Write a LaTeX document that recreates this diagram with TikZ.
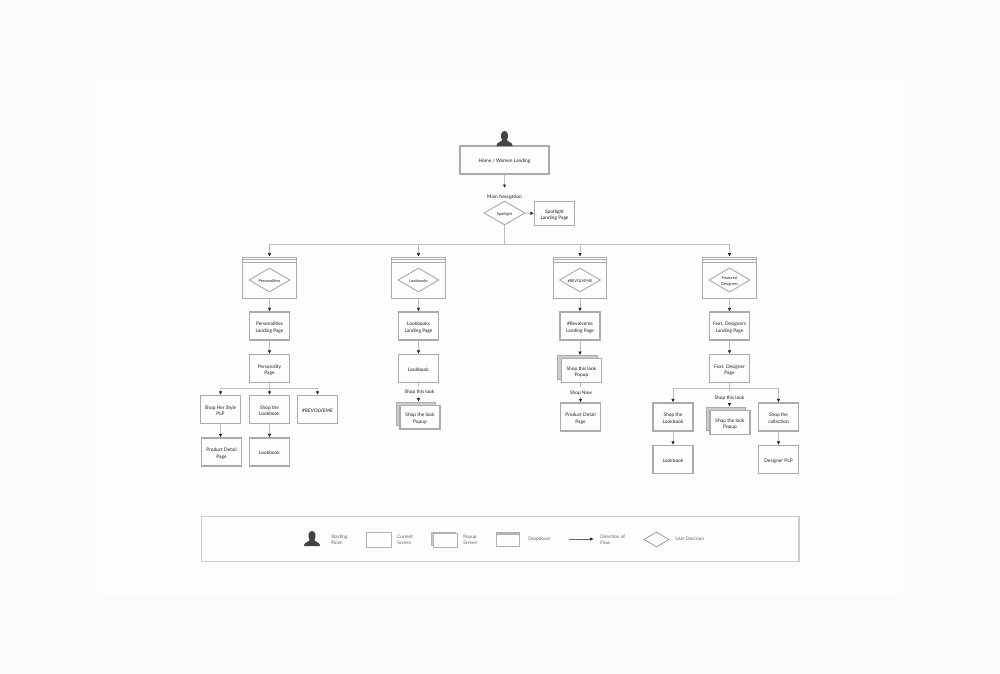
\documentclass[tikz,border=0pt]{standalone}
\usepackage{fontspec}
\setmainfont{Lato}
\usetikzlibrary{arrows.meta,calc,shapes.geometric}
\definecolor{pagebg}{HTML}{FBFBFB}
\definecolor{panelbg}{HTML}{FDFDFD}
\definecolor{boxline}{HTML}{ABABAB}
\definecolor{connline}{HTML}{BEBEBE}
\definecolor{inktext}{HTML}{1C1C1C}
\definecolor{persona}{HTML}{444444}
\newcommand\tl[1]{\vbox{\kern2.4pt\hbox{\begin{tabular}{@{}c@{}}#1\end{tabular}}}}
\tikzset{
  x=0.75pt,y=-0.75pt,
  lbl/.style={font=\fontsize{3.6}{4.9}\selectfont,text=inktext,inner sep=0pt},
  smalllbl/.style={font=\fontsize{2.9}{4.2}\selectfont,text=inktext,inner sep=0pt},
  leglbl/.style={font=\fontsize{3.55}{4.5}\selectfont,text=black!62,align=left,inner sep=0pt,anchor=west},
  screen/.style={draw=boxline,line width=0.95pt,fill=panelbg,minimum width=30pt,minimum height=21pt,inner sep=0pt,lbl},
  popfront/.style={draw=boxline,line width=0.95pt,fill=panelbg,minimum width=30pt,minimum height=17.8pt,inner sep=0pt,lbl},
  popback/.style={draw=boxline,line width=0.8pt,fill=black!20,minimum width=29.6pt,minimum height=17.8pt,inner sep=0pt},
  drop/.style={draw=boxline,line width=0.95pt,fill=panelbg,minimum width=40pt,minimum height=31pt,inner sep=0pt},
  choice/.style={draw=boxline,line width=0.7pt,fill=panelbg,diamond,aspect=1.7,minimum width=30.8pt,minimum height=18pt,inner sep=0pt,smalllbl},
  conn/.style={draw=connline,line width=0.7pt,-{Latex[length=2.6pt,width=2.6pt,black!85]}},
  plain/.style={draw=connline,line width=0.7pt},
  person/.pic={
    \fill[persona] (-8.2,7.5) .. controls (-8,3.5) and (-3,3.5) .. (-2.4,1.5)
      .. controls (-4.2,-1) and (-4.2,-7.5) .. (0,-7.5)
      .. controls (4.2,-7.5) and (4.2,-1) .. (2.4,1.5)
      .. controls (3,3.5) and (8,3.5) .. (8.2,7.5) -- cycle;
  }
}
\begin{document}
\begin{tikzpicture}
\useasboundingbox (0,0) rectangle (1000,674);
\fill[pagebg] (0,0) rectangle (1000,674);
\fill[panelbg] (97,80) rectangle (903,595);
% top
\node[draw=boxline,line width=0.95pt,fill=panelbg,minimum width=66.7pt,minimum height=21pt,inner sep=0pt,lbl] (home) at (504.5,160) {\tl{Home / Women Landing}};
\pic at (504.5,138.5) {person};
\node[lbl] (mainnav) at (504.5,196) {\tl{Main Navigation}};
\node[choice] (spot) at (504.5,213) {\tl{Spotlight}};
\node[screen,minimum height=17.5pt] (spotl) at (554.5,213.5) {\tl{Spotlight\\Landing Page}};
\coordinate (navin) at (504.5,188);
\draw[conn] (home.south) -- (navin);
\draw[conn] (spot.east) -- (spotl.west);
\coordinate (trunk) at (504.5,244);
\draw[plain] (spot.south) -- (trunk);
% dropdowns
\foreach \n/\cx/\t in {d1/269.5/Personalities,d2/418.5/Lookbooks,d3/580/\#REVOLVEME,d4/729.5/Featured\\Designers}{
  \node[drop] (\n) at (\cx,278) {};
  \draw[boxline,line width=0.6pt] ($(\n.north west)+(0,3)$) -- ($(\n.north east)+(0,3)$);
  \draw[boxline,line width=0.6pt] ($(\n.north west)+(0,5.5)$) -- ($(\n.north east)+(0,5.5)$);
  \node[choice] (\n c) at (\cx,280) {\tl{\t}};
}
\draw[plain] (d1.north |- trunk) -- (d4.north |- trunk);
\foreach \n in {d1,d2,d3,d4} \draw[conn] (\n.north |- trunk) -- (\n.north);
% column 1
\node[screen] (a1) at (269.5,326) {\tl{Personalities\\Landing Page}};
\node[screen] (a2) at (269.5,368.5) {\tl{Personality\\Page}};
\node[screen] (a3) at (220.5,409.5) {\tl{Shop Her Style\\PLP}};
\node[screen] (a4) at (269.5,409.5) {\tl{Shop the\\Lookbook}};
\node[screen] (a5) at (317.5,409.5) {\tl{\#REVOLVEME}};
\node[screen] (a6) at (221.5,452) {\tl{Product Detail\\Page}};
\node[screen] (a7) at (269.5,452) {\tl{Lookbook}};
\coordinate (abr) at (269.5,388);
\draw[conn] (d1) -- (a1);
\draw[conn] (a1) -- (a2);
\draw[plain] (a3.north |- abr) -- (a5.north |- abr);
\draw[plain] (a2.south) -- (abr);
\draw[conn] (a3.north |- abr) -- (a3.north);
\draw[conn] (abr) -- (a4.north);
\draw[conn] (a5.north |- abr) -- (a5.north);
\draw[conn] (a3.south) -- (a3.south |- a6.north);
\draw[conn] (a4) -- (a7);
% column 2
\node[screen] (b1) at (418.5,326) {\tl{Lookbooks\\Landing Page}};
\node[screen] (b2) at (418.5,368.5) {\tl{Lookbook}};
\node[popback] (b3b) at (416,414) {};
\node[popfront] (b3) at (420,417) {\tl{Shop the look\\Popup}};
\node[lbl] (b2l) at (419.5,391) {\tl{Shop this look}};
\draw[conn] (d2) -- (b1);
\draw[conn] (b1) -- (b2);
\draw[plain] (b2.south) -- (b2l.north -| b2.south);
\draw[conn] (b2l.south -| b2.south) -- (b3b.north -| b2.south);
% column 3
\node[screen] (c1) at (580,326) {\tl{\#Revolveme\\Landing Page}};
\node[popback] (c2b) at (577.5,367.5) {};
\node[popfront] (c2) at (581.5,370.5) {\tl{Shop this look\\Popup}};
\node[lbl] (c2l) at (581,392) {\tl{Shop Now}};
\node[screen] (c3) at (580.5,417) {\tl{Product Detail\\Page}};
\draw[conn] (d3) -- (c1);
\draw[conn] (c1) -- (c2b.north -| c1.south);
\draw[plain] (c2.south -| c3.north) -- (c2l.north -| c3.north);
\draw[conn] (c2l.south -| c3.north) -- (c3.north);
% column 4
\node[screen] (e1) at (729.5,326) {\tl{Feat. Designers\\Landing Page}};
\node[screen] (e2) at (729.5,368.5) {\tl{Feat. Designer\\Page}};
\node[screen] (e3) at (673,417) {\tl{Shop the\\Lookbook}};
\node[popback] (e4b) at (726,419) {};
\node[popfront] (e4) at (730,422.5) {\tl{Shop the look\\Popup}};
\node[screen] (e5) at (778.5,417) {\tl{Shop the\\collection}};
\node[screen] (e6) at (673,459.5) {\tl{Lookbook}};
\node[screen] (e7) at (778.5,459.5) {\tl{Designer PLP}};
\node[lbl] (e2l) at (729.5,396.5) {\tl{Shop this look}};
\coordinate (ebr) at (729.5,388);
\draw[conn] (d4) -- (e1);
\draw[conn] (e1) -- (e2);
\draw[plain] (e3.north |- ebr) -- (e5.north |- ebr);
\draw[plain] (e2.south) -- (e2l.north -| e2.south);
\draw[conn] (e3.north |- ebr) -- (e3.north);
\draw[conn] (e5.north |- ebr) -- (e5.north);
\draw[conn] (e2l.south -| e2.south) -- (e4b.north -| e2.south);
\draw[conn] (e3) -- (e6);
\draw[conn] (e5) -- (e7);
% legend
\node[draw=black!20,line width=0.9pt,fill=panelbg,minimum width=448pt,minimum height=33.4pt,inner sep=0pt] (legend) at (500.25,539) {};
\pic at (312,538.5) {person};
\node[leglbl] (l1) at (331,539.7) {Starting\\Point};
\node[draw=black!30,line width=0.7pt,fill=panelbg,minimum width=19pt,minimum height=11.2pt,inner sep=0pt] (l2) at (378.7,539.5) {};
\node[leglbl] (l2t) at (397,539.7) {Current\\Screen};
\node[draw=black!30,line width=0.5pt,fill=black!20,minimum width=18pt,minimum height=10pt,inner sep=0pt] (l3b) at (443.5,538.5) {};
\node[draw=black!30,line width=0.7pt,fill=panelbg,minimum width=18pt,minimum height=10pt,inner sep=0pt] (l3) at (445.5,540.5) {};
\node[leglbl] (l3t) at (463,539.7) {Popup\\Screen};
\node[draw=black!30,line width=0.7pt,fill=panelbg,minimum width=17.5pt,minimum height=11pt,inner sep=0pt] (l4) at (508,539.5) {};
\fill[black!30] ($(l4.north west)+(0,1)$) rectangle ($(l4.north east)+(0,3.5)$);
\node[leglbl] (l4t) at (528,539.5) {Dropdown};
\coordinate (l5a) at (569,539);
\coordinate (l5b) at (594,539);
\draw[black!60,line width=0.6pt,-{Latex[length=3pt,width=2.6pt,black!85]}] (l5a) -- (l5b);
\node[leglbl] (l5t) at (600,539.7) {Direction of\\Flow};
\node[draw=black!45,line width=0.5pt,diamond,aspect=1.67,minimum width=18.8pt,minimum height=11.3pt,inner sep=0pt] (l6) at (656.5,539.5) {};
\node[leglbl] (l6t) at (675,539) {User Decision};
\end{tikzpicture}
\end{document}
